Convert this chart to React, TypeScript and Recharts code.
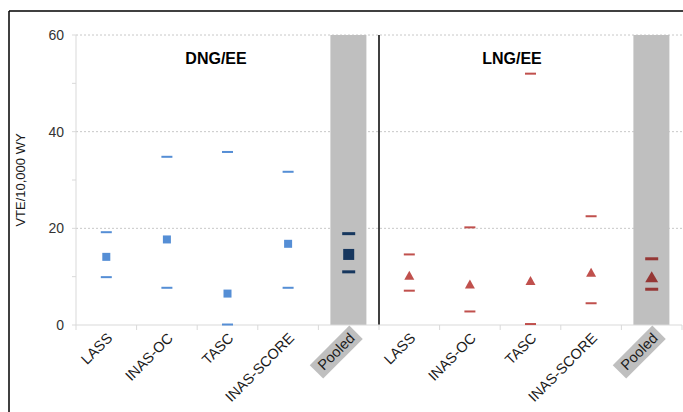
import React from 'react';
import { ComposedChart, Bar, Line, XAxis, YAxis, CartesianGrid, ReferenceLine } from 'recharts';

// study names, same for both panels
const categories = ['LASS', 'INAS-OC', 'TASC', 'INAS-SCORE', 'Pooled'];

// DNG/EE: estimate with lower / upper CI
const dngEst = [14.1, 17.7, 6.5, 16.8, 14.6];
const dngLow = [9.9, 7.7, 0.1, 7.7, 11.0];
const dngHigh = [19.2, 34.8, 35.8, 31.7, 18.9];

// LNG/EE
const lngEst = [10.3, 8.5, 9.2, 10.9, 10.0];
const lngLow = [7.1, 2.8, 0.2, 4.5, 7.4];
const lngHigh = [14.6, 20.2, 52.0, 22.5, 13.7];

const yTicks = [0, 10, 20, 30, 40, 50, 60];
const gridValues = [20, 40, 60];
const bandTop = 60;

const FONT = '"Liberation Sans", Arial, sans-serif';

const makeRows = (group: string, est: number[], lo: number[], hi: number[]) =>
  categories.map((c, i) => ({
    key: group + '-' + c,
    label: c,
    group,
    pooled: c === 'Pooled',
    est: est[i],
    lo: lo[i],
    hi: hi[i],
    band: c === 'Pooled' ? bandTop : null,
  }));

const rows = [...makeRows('D', dngEst, dngLow, dngHigh), ...makeRows('L', lngEst, lngLow, lngHigh)];

const colors: any = {
  D: { main: '#558ED5', pooled: '#17375E' },
  L: { main: '#C0504D', pooled: '#953735' },
};

const renderEst = (p: any) => {
  const { cx, cy, payload, index } = p;
  if (cx == null || cy == null) return <g key={`e${index}`} />;
  const c = payload.pooled ? colors[payload.group].pooled : colors[payload.group].main;
  if (payload.group === 'D') {
    const s = payload.pooled ? 11 : 8;
    return <rect key={`e${index}`} x={cx - s / 2} y={cy - s / 2} width={s} height={s} fill={c} />;
  }
  const w = payload.pooled ? 13 : 10;
  const h = payload.pooled ? 11 : 9;
  return (
    <polygon
      key={`e${index}`}
      points={`${cx},${cy - h / 2} ${cx + w / 2},${cy + h / 2} ${cx - w / 2},${cy + h / 2}`}
      fill={c}
    />
  );
};

const renderDash = (prefix: string) => (p: any) => {
  const { cx, cy, payload, index } = p;
  if (cx == null || cy == null) return <g key={`${prefix}${index}`} />;
  const c = payload.pooled ? colors[payload.group].pooled : colors[payload.group].main;
  const w = payload.pooled ? 13 : 11;
  const h = payload.pooled ? 3 : 2;
  return <rect key={`${prefix}${index}`} x={cx - w / 2} y={cy - h / 2} width={w} height={h} fill={c} />;
};

const XTick = (props: any) => {
  const { x, y, payload, index } = props;
  const half = payload.offset || 30.3;
  const row = rows.find((r) => r.key === payload.value);
  const label = row ? row.label : payload.value;
  const y0 = y - 8;
  const isLast = index === rows.length - 1;
  const textW = label.length * 7.5;
  return (
    <g>
      <line x1={x - half} y1={y0} x2={x - half} y2={y0 + 5} stroke="#d9d9d9" />
      {isLast && <line x1={x + half} y1={y0} x2={x + half} y2={y0 + 5} stroke="#d9d9d9" />}
      <g transform={`translate(${x + 7},${y0 + 14}) rotate(-45)`}>
        {row && row.pooled && (
          <rect x={-textW - 6} y={-14} width={textW + 11} height={19} fill="#bfbfbf" />
        )}
        <text x={0} y={0} textAnchor="end" fontSize={14.5} fontFamily={FONT} fill="#1a1a1a">
          {label}
        </text>
      </g>
    </g>
  );
};

export default function App() {
  return (
    <div style={{ position: 'absolute', left: 0, top: 0, width: 683, height: 412, background: '#fff' }}>
      <ComposedChart
        width={683}
        height={412}
        data={rows}
        margin={{ top: 35, right: 1, bottom: 0, left: 0 }}
        barCategoryGap={0}
      >
        <CartesianGrid vertical={false} horizontalValues={gridValues} stroke="#c8c8c8" strokeDasharray="2 2" />
        <XAxis
          dataKey="key"
          interval={0}
          height={87}
          tickLine={false}
          axisLine={{ stroke: '#d9d9d9' }}
          tick={<XTick />}
        />
        <YAxis
          domain={[0, 60]}
          ticks={yTicks}
          interval={0}
          width={76}
          tickSize={4}
          tickMargin={8}
          tickFormatter={(v: number) => (v % 20 === 0 ? String(v) : '')}
          axisLine={{ stroke: '#d9d9d9' }}
          tickLine={{ stroke: '#d9d9d9' }}
          tick={{ fontSize: 14, fill: '#333', fontFamily: FONT }}
        />
        <Bar dataKey="band" fill="#bfbfbf" barSize={36} isAnimationActive={false} />
        <ReferenceLine x="L-LASS" position="start" stroke="#000" strokeWidth={1.5} />
        <Line dataKey="hi" stroke="none" dot={renderDash('h')} activeDot={false} isAnimationActive={false} />
        <Line dataKey="lo" stroke="none" dot={renderDash('l')} activeDot={false} isAnimationActive={false} />
        <Line dataKey="est" stroke="none" dot={renderEst} activeDot={false} isAnimationActive={false} />
      </ComposedChart>
      <svg
        width={683}
        height={412}
        style={{ position: 'absolute', left: 0, top: 0, pointerEvents: 'none' }}
      >
        <line x1={9} y1={11} x2={683} y2={11} stroke="#000" strokeWidth={1.5} />
        <line x1={9} y1={11} x2={9} y2={412} stroke="#000" strokeWidth={1.5} />
        <text
          x={22}
          y={180}
          transform="rotate(-90, 22, 180)"
          textAnchor="middle"
          dominantBaseline="middle"
          fontSize={13}
          fontFamily={FONT}
          fill="#1a1a1a"
        >
          VTE/10,000 WY
        </text>
        <text x={216} y={64} textAnchor="middle" fontSize={16} fontWeight="bold" fontFamily={FONT} fill="#000">
          DNG/EE
        </text>
        <text x={512} y={64} textAnchor="middle" fontSize={16} fontWeight="bold" fontFamily={FONT} fill="#000">
          LNG/EE
        </text>
      </svg>
    </div>
  );
}
